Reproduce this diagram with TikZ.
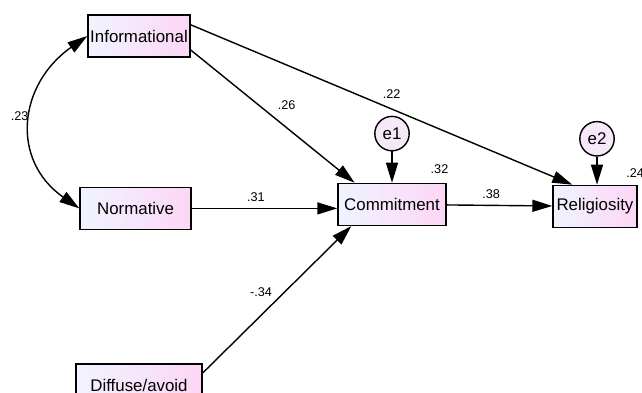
\documentclass[tikz,border=0pt]{standalone}
\usepackage{fontspec}
\setmainfont{Liberation Sans}
\usetikzlibrary{positioning,arrows.meta,calc}
\definecolor{boxleft}{RGB}{240,244,255}
\definecolor{boxright}{RGB}{253,214,246}
\definecolor{errfill}{RGB}{246,232,248}

\begin{document}
\begin{tikzpicture}[
  var/.style={draw, line width=1pt, minimum height=1.05cm, inner sep=1pt,
    left color=boxleft, right color=boxright, font=\fontsize{12}{14}\selectfont},
  err/.style={circle, draw, line width=1pt, minimum size=0.86cm, inner sep=0pt,
    fill=errfill, font=\fontsize{12}{14}\selectfont},
  coef/.style={inner sep=1pt, font=\fontsize{9}{10}\selectfont},
  arrow/.style={-{Triangle[length=0.5cm,width=0.3cm]}, line width=1pt},
  biarrow/.style={{Triangle[length=0.5cm,width=0.3cm]}-{Triangle[length=0.5cm,width=0.3cm]}, line width=1pt}
]
\useasboundingbox (0,0) rectangle (16.05,-9.825);

% exogenous variables
\node[var, minimum width=2.55cm] (info) at (3.475,-0.9)   {Informational};
\node[var, minimum width=2.78cm] (norm) at (3.39,-5.21)   {Normative};
\node[var, minimum width=3.15cm] (diff) at (3.475,-9.625) {Diffuse/avoid};

% endogenous variables and their errors
\node[var, minimum width=2.7cm] (comm)  at (9.8,-5.11)    {Commitment};
\node[var, minimum width=2.1cm] (relig) at (14.875,-5.16) {Religiosity};
\node[err, above=0.78cm of comm] (e1) {e1};
\node[err, above=0.7cm of relig, xshift=0.05cm] (e2) {e2};

% paths
\draw[biarrow] (info.west) to[out=215,in=145,looseness=1.25]
  node[coef, pos=0.47, left=1pt] (c23) {.23} (norm.west);
\draw[arrow] ([yshift=-0.35cm]info.east) --
  node[coef, pos=0.52, xshift=0.27cm, yshift=0.34cm] (c26) {.26} ([xshift=0.43cm]comm.north west);
\draw[arrow] ([yshift=0.28cm]info.east) --
  node[coef, pos=0.515, xshift=0.11cm, yshift=0.33cm] (c22) {.22} ([xshift=0.5cm]relig.north west);
\draw[arrow] (norm.east) --
  node[coef, pos=0.44, yshift=0.29cm] (c31) {.31} (norm.east -| comm.west);
\draw[arrow] ([yshift=0.3cm]diff.east) --
  node[coef, pos=0.47, xshift=-0.29cm, yshift=0.3cm] (c34) {-.34} ([xshift=0.35cm]comm.south west);
\draw[arrow] (comm) -- node[coef, pos=0.42, yshift=0.27cm] (c38) {.38} (relig);
\draw[arrow] (e1) -- (comm);
\draw[arrow] (e2) -- (e2 |- relig.north);

% squared multiple correlations
\node[coef] (r2comm)  at ([shift={(-0.18,0.33)}]comm.north east)  {.32};
\node[coef, anchor=east] (r2relig) at ([shift={(0.2,0.3)}]relig.north east) {.24};
\end{tikzpicture}
\end{document}
